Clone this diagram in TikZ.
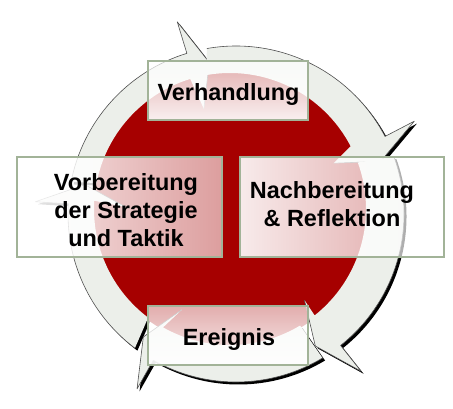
\documentclass[tikz,border=0pt]{standalone}
\usepackage{fontspec}
\setmainfont{Liberation Sans}
\usetikzlibrary{fadings}
\definecolor{diskred}{RGB}{166,0,0}
\definecolor{ringgray}{RGB}{236,239,234}
\definecolor{boxgreen}{RGB}{162,179,152}
\tikzfading[name=fadedown, top color=transparent!32, bottom color=transparent!6]
\tikzfading[name=faderight, left color=transparent!8, right color=transparent!38]
\begin{document}
\begin{tikzpicture}[x=.03cm,y=.03cm,
	ringshadow/.style={fill=black},
	ringarrow/.style={fill=ringgray},
	ringedge/.style={draw=black!70,line width=.5pt,line join=round},
	boxedge/.style={draw=boxgreen,line width=1.7pt},
	boxtext/.style={font=\bfseries\fontsize{20}{24}\selectfont,align=center,inner sep=0pt}]
	\useasboundingbox (0,0) rectangle (453,408);
	% shadow of the ring
	\begin{scope}[shift={(238.5,191.5)}]
		\foreach \t/\b/\p in {169/107/100,100/27.5/20,20/-51.5/-59,-59/-119.5/-127,-127/-183.5/-191}
		\fill[ringshadow] (\t:168) arc[start angle=\t,end angle=\b,radius=168] -- (\b:201) -- (\p:154) -- (\b:110)
			-- ({-6+136*cos(\b)},{5+136*sin(\b)}) arc[start angle=\b,end angle=\t,radius=136] -- cycle;
	\end{scope}
	\fill[diskred] (230,199) circle (138);
	% ring of arrows
	\begin{scope}[shift={(236,194)}]
		\foreach \t/\b/\p in {169/107/100,100/27.5/20,20/-51.5/-59,-59/-119.5/-127,-127/-183.5/-191}{
		\fill[ringarrow] (\t:168) arc[start angle=\t,end angle=\b,radius=168] -- (\b:201) -- (\p:154) -- (\b:110)
			-- ({-6+136*cos(\b)},{5+136*sin(\b)}) arc[start angle=\b,end angle=\t,radius=136] -- cycle;
		\draw[ringedge] (\t:168) arc[start angle=\t,end angle=\b,radius=168] -- (\b:201) -- (\p:154) -- (\b:110);
		}
	\end{scope}
	% boxes
	\foreach \nm/\xa/\ya/\xb/\yb/\fd/\tx/\ty/\txt in {verh/148/288/308/347/fadedown/228.5/314/{Verhandlung},
		vor/17/151/222/251/faderight/126/198/{Vorbereitung\\der Strategie\\und Taktik},
		nach/240/151/444/251/faderight/332/204/{Nachbereitung\\\& Reflektion},
		ereig/148/43/308/102/fadedown/229/69/{Ereignis}}{
		\fill[white,path fading=\fd] (\xa,\ya) rectangle (\xb,\yb);
		\draw[boxedge] (\xa,\ya) rectangle (\xb,\yb);
		\node[boxtext] (\nm) at (\tx,\ty) {\txt};
	}
\end{tikzpicture}
\end{document}
